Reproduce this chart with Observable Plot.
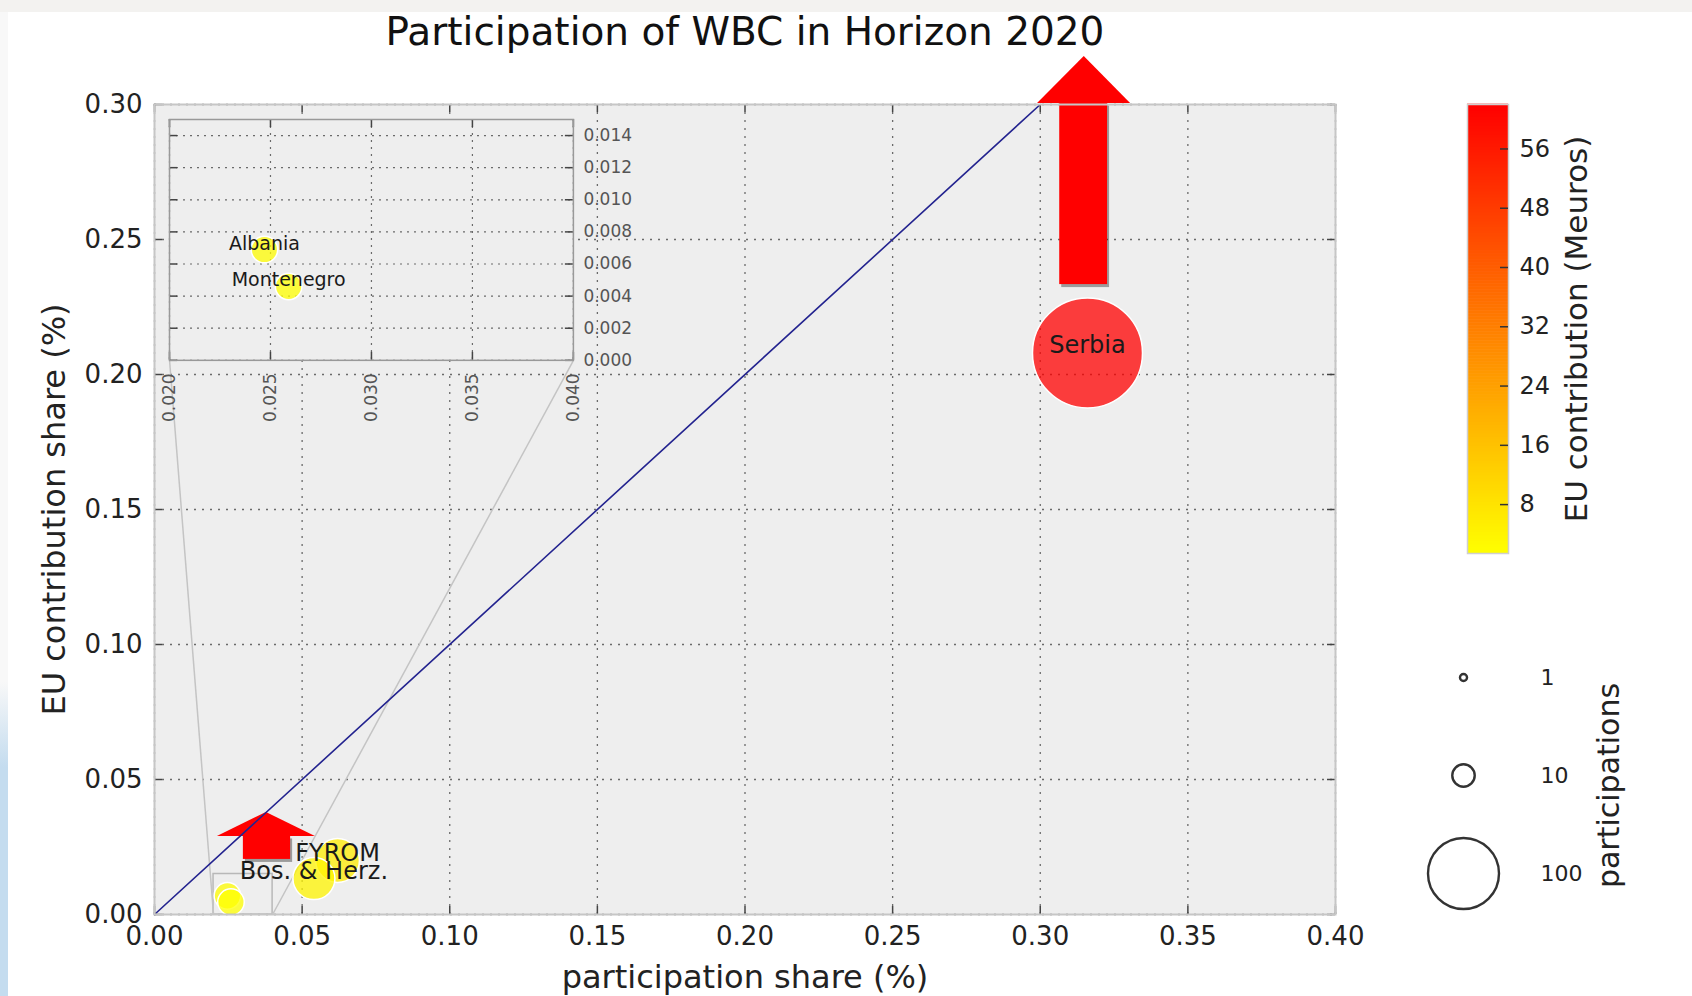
<!DOCTYPE html>
<html><head><meta charset="utf-8">
<script src="https://cdn.jsdelivr.net/npm/d3@7"></script>
<script src="https://cdn.jsdelivr.net/npm/@observablehq/plot@0.6"></script>
<style>
html,body{margin:0;padding:0;background:#fff;}
#wrap{position:relative;width:1692px;height:996px;overflow:hidden;background:#fff;font-family:"DejaVu Sans",sans-serif;}
#topband{position:absolute;left:0;top:0;width:1692px;height:12px;background:#f3f2f0;}
#leftband{position:absolute;left:0;top:12px;width:8px;height:984px;background:linear-gradient(to bottom,#f8f8f8 0px,#f8f8f8 670px,#c4dcef 755px,#c4dcef 100%);}
#wrap svg{position:absolute;overflow:visible;}
g[aria-label="arrow-shadow"]{filter:blur(2px);}
</style></head><body><div id="wrap"><div id="topband"></div><div id="leftband"></div></div>
<script>
// ---- data ----
const countries = ["Serbia", "FYROM", "Bos. & Herz.", "Albania", "Montenegro"];
const participationShare = [0.316, 0.062, 0.054, 0.0247, 0.0259];   // %
const euShare = [0.208, 0.020, 0.0133, 0.0069, 0.0046];             // %
const participations = [240, 38, 35, 14, 14];
const euContribution = [62.0, 6.0, 4.0, 2.1, 1.4];                  // Meuros
const mainLabelled = ["Serbia", "FYROM", "Bos. & Herz."];
const insetLabelled = ["Albania", "Montenegro"];

const xTicks = [0.00, 0.05, 0.10, 0.15, 0.20, 0.25, 0.30, 0.35, 0.40];
const yTicks = [0.00, 0.05, 0.10, 0.15, 0.20, 0.25, 0.30];
const insetXTicks = [0.020, 0.025, 0.030, 0.035, 0.040];
const insetYTicks = [0.000, 0.002, 0.004, 0.006, 0.008, 0.010, 0.012, 0.014];
const colorTicks = [8, 16, 24, 32, 40, 48, 56];
const sizeLegendValues = [1, 10, 100];
const diagonal = [0.00, 0.30];
const zoomBox = [{x1: 0.02, x2: 0.04, y1: 0.0, y2: 0.015}];
const arrowShafts = [
  {arrow: "big", x1: 0.3066, x2: 0.3228, y1: 0.2333, y2: 0.3006},
  {arrow: "small", x1: 0.0301, x2: 0.0461, y1: 0.0204, y2: 0.0291}
];
const arrowHeads = [
  {arrow: "big", y: 0.3004, x1: 0.2991, x2: 0.3306},
  {arrow: "big", y: 0.3178, x1: 0.3149, x2: 0.3149},
  {arrow: "small", y: 0.0289, x1: 0.0213, x2: 0.0545},
  {arrow: "small", y: 0.0378, x1: 0.0379, x2: 0.0379}
];

const rows = countries.map((c, i) => ({
  country: c, px: participationShare[i], py: euShare[i],
  n: participations[i], eu: euContribution[i]
}));

// ---- layout ----
const FONT = "DejaVu Sans";
const W = 1692, H = 996, mL = 154, mR = 357, mT = 104, mB = 82;
const plotW = W - mL - mR, plotH = H - mT - mB;
const insetPlace = {x1: 0.0051, x2: 0.1419, y1: 0.2052, y2: 0.2944};

const rScale = {type: "sqrt", domain: [0, 100], range: [0, 35.5]};
const cLo = d3.min(euContribution), cHi = d3.max(euContribution);
const colorScale = {type: "linear", domain: [cLo, cHi], range: ["#ffff00", "#ff0000"], interpolate: "rgb"};
const gridStyle = {stroke: "#6a6a6a", strokeWidth: 1.3, strokeDasharray: "2,6"};

const connectors = [
  {xa: insetPlace.x1, ya: insetPlace.y1, xb: zoomBox[0].x1, yb: zoomBox[0].y1},
  {xa: insetPlace.x2, ya: insetPlace.y1, xb: zoomBox[0].x2, yb: zoomBox[0].y1}
];

const main = Plot.plot({
  width: W, height: H, marginLeft: mL, marginRight: mR, marginTop: mT, marginBottom: mB,
  style: {background: "transparent", fontFamily: FONT, fontSize: "26px", color: "#222"},
  x: {domain: [0, 0.40]},
  y: {domain: [0, 0.30]},
  r: rScale,
  color: colorScale,
  marks: [
    Plot.frame({fill: "#eeeeee", stroke: null}),
    Plot.ruleX(xTicks, {x: d => d, ...gridStyle}),
    Plot.ruleY(yTicks, {y: d => d, ...gridStyle}),
    Plot.rect(zoomBox, {x1: "x1", x2: "x2", y1: "y1", y2: "y2", fill: "none", stroke: "#b8b8b8", strokeWidth: 1.5}),
    Plot.link(connectors, {x1: "xa", y1: "ya", x2: "xb", y2: "yb", stroke: "#c4c4c4", strokeWidth: 1.5}),
    Plot.dot(rows, {x: "px", y: "py", r: "n", fill: "eu", fillOpacity: 0.75, stroke: "white", strokeWidth: 1.5}),
    Plot.text(rows.filter(d => mainLabelled.includes(d.country)), {x: "px", y: "py", text: "country", fontSize: 24, lineAnchor: "bottom", fill: "#1a1a1a"}),
    Plot.rect(arrowShafts, {x1: "x1", x2: "x2", y1: "y1", y2: "y2", fill: "#000", fillOpacity: 0.35, dx: 2, dy: 3, ariaLabel: "arrow-shadow"}),
    Plot.areaX(arrowHeads, {y: "y", x1: "x1", x2: "x2", z: "arrow", fill: "#000", fillOpacity: 0.3, dx: 2, dy: 3, ariaLabel: "arrow-shadow"}),
    Plot.rect(arrowShafts, {x1: "x1", x2: "x2", y1: "y1", y2: "y2", fill: "#ff0000"}),
    Plot.areaX(arrowHeads, {y: "y", x1: "x1", x2: "x2", z: "arrow", fill: "#ff0000"}),
    Plot.line(diagonal, {x: d => d, y: d => d, stroke: "#23238f", strokeWidth: 1.6}),
    Plot.tickX(xTicks, {x: d => d, insetTop: plotH - 8, stroke: "#444", strokeWidth: 1.5}),
    Plot.tickX(xTicks, {x: d => d, insetBottom: plotH - 8, stroke: "#444", strokeWidth: 1.5}),
    Plot.tickY(yTicks, {y: d => d, insetRight: plotW - 8, stroke: "#444", strokeWidth: 1.5}),
    Plot.tickY(yTicks, {y: d => d, insetLeft: plotW - 8, stroke: "#444", strokeWidth: 1.5}),
    Plot.frame({stroke: "#c6c6c6", strokeWidth: 2}),
    Plot.axisX({ticks: xTicks, tickFormat: d3.format(".2f"), tickSize: 0, tickPadding: 12, fontSize: 26, label: null}),
    Plot.axisY({ticks: yTicks, tickFormat: d3.format(".2f"), tickSize: 0, tickPadding: 12, fontSize: 26, label: null}),
    Plot.text(["Participation of WBC in Horizon 2020"], {frameAnchor: "top", dy: -72, fontSize: 39, lineAnchor: "middle", textAnchor: "middle", fill: "#111"}),
    Plot.text(["participation share (%)"], {frameAnchor: "bottom", dy: 63, fontSize: 32, lineAnchor: "middle", textAnchor: "middle", fill: "#222"}),
    Plot.text(["EU contribution share (%)"], {frameAnchor: "left", dx: -100, rotate: -90, fontSize: 32, lineAnchor: "middle", textAnchor: "middle", fill: "#222"})
  ]
});
main.style.left = "0px"; main.style.top = "0px";
document.getElementById("wrap").appendChild(main);

// ---- inset ----
const sx = main.scale("x"), sy = main.scale("y");
const pl = sx.apply(insetPlace.x1), pr = sx.apply(insetPlace.x2);
const pt = sy.apply(insetPlace.y2), pb = sy.apply(insetPlace.y1);
const iL = 10, iT = 10, iR = 100, iB = 90;
const iw = pr - pl, ih = pb - pt;
const ixDom = [insetXTicks[0], insetXTicks[insetXTicks.length - 1]];
const iyDom = [0, 0.015];
const inInset = rows.filter(d => d.px >= ixDom[0] && d.px <= ixDom[1] && d.py >= iyDom[0] && d.py <= iyDom[1]);
const inset = Plot.plot({
  width: iw + iL + iR, height: ih + iT + iB,
  marginLeft: iL, marginRight: iR, marginTop: iT, marginBottom: iB,
  style: {background: "transparent", fontFamily: FONT, fontSize: "17px", color: "#555"},
  x: {domain: ixDom}, y: {domain: iyDom},
  r: rScale, color: colorScale,
  marks: [
    Plot.frame({fill: "#eeeeee", stroke: null}),
    Plot.ruleX(insetXTicks, {x: d => d, stroke: "#6a6a6a", strokeWidth: 1.2, strokeDasharray: "2,5"}),
    Plot.ruleY(insetYTicks, {y: d => d, stroke: "#6a6a6a", strokeWidth: 1.2, strokeDasharray: "2,5"}),
    Plot.dot(inInset, {x: "px", y: "py", r: "n", fill: "eu", fillOpacity: 0.75, stroke: "white", strokeWidth: 1.5}),
    Plot.text(inInset.filter(d => insetLabelled.includes(d.country)), {x: "px", y: "py", text: "country", fontSize: 19, lineAnchor: "bottom", fill: "#1a1a1a"}),
    Plot.tickX(insetXTicks, {x: d => d, insetTop: ih - 8, stroke: "#444", strokeWidth: 1.5}),
    Plot.tickX(insetXTicks, {x: d => d, insetBottom: ih - 8, stroke: "#444", strokeWidth: 1.5}),
    Plot.tickY(insetYTicks, {y: d => d, insetRight: iw - 8, stroke: "#444", strokeWidth: 1.5}),
    Plot.tickY(insetYTicks, {y: d => d, insetLeft: iw - 8, stroke: "#444", strokeWidth: 1.5}),
    Plot.frame({stroke: "#999", strokeWidth: 1.5}),
    Plot.axisX({ticks: insetXTicks, tickFormat: d3.format(".3f"), tickRotate: -90, tickSize: 0, tickPadding: 13, fontSize: 17, label: null}),
    Plot.axisY({anchor: "right", ticks: insetYTicks, tickFormat: d3.format(".3f"), tickSize: 0, tickPadding: 10, fontSize: 17, label: null})
  ]
});
inset.style.left = (pl - iL) + "px"; inset.style.top = (pt - iT) + "px";
document.getElementById("wrap").appendChild(inset);

// ---- colorbar ----
const nSteps = 150;
const ramp = d3.range(nSteps).map(i => ({v0: cLo + (cHi - cLo) * i / nSteps, v1: cLo + (cHi - cLo) * (i + 1) / nSteps}));
const cbar = Plot.plot({
  width: 260, height: 500, marginLeft: 67, marginRight: 152, marginTop: 24, marginBottom: 27,
  style: {background: "transparent", fontFamily: FONT, fontSize: "24px", color: "#222"},
  y: {domain: [cLo, cHi]}, color: colorScale,
  marks: [
    Plot.rect(ramp, {y1: "v0", y2: "v1", fill: d => (d.v0 + d.v1) / 2, insetTop: -0.3, insetBottom: -0.3}),
    Plot.frame({stroke: "#cfcfcf", strokeWidth: 1.5}),
    Plot.tickY(colorTicks, {y: d => d, insetLeft: 33, stroke: "#333", strokeWidth: 1.5}),
    Plot.axisY({anchor: "right", ticks: colorTicks, tickSize: 0, tickPadding: 11, fontSize: 24, label: null}),
    Plot.text(["EU contribution (Meuros)"], {frameAnchor: "right", dx: 69, rotate: -90, fontSize: 31, lineAnchor: "middle", textAnchor: "middle", fill: "#222"})
  ]
});
cbar.style.left = "1400px"; cbar.style.top = "80px";
document.getElementById("wrap").appendChild(cbar);

// ---- size legend ----
const sizeLeg = Plot.plot({
  width: 260, height: 300, marginLeft: 63, marginRight: 0, marginTop: 10, marginBottom: 0,
  style: {background: "transparent", fontFamily: FONT, fontSize: "22px", color: "#222"},
  y: {type: "point", domain: sizeLegendValues, range: [47, 243], padding: 0, axis: null},
  r: rScale,
  marks: [
    Plot.dot(sizeLegendValues, {y: d => d, r: d => d, frameAnchor: "left", fill: "none", stroke: "#333", strokeWidth: 2.4}),
    Plot.text(sizeLegendValues, {y: d => d, text: d => String(d), frameAnchor: "left", dx: 77, textAnchor: "start", lineAnchor: "middle", fontSize: 22, fill: "#222"}),
    Plot.text(["participations"], {frameAnchor: "left", dx: 146, rotate: -90, fontSize: 30, lineAnchor: "middle", textAnchor: "middle", fill: "#222"})
  ]
});
sizeLeg.style.left = "1400px"; sizeLeg.style.top = "630px";
document.getElementById("wrap").appendChild(sizeLeg);
</script></body></html>
